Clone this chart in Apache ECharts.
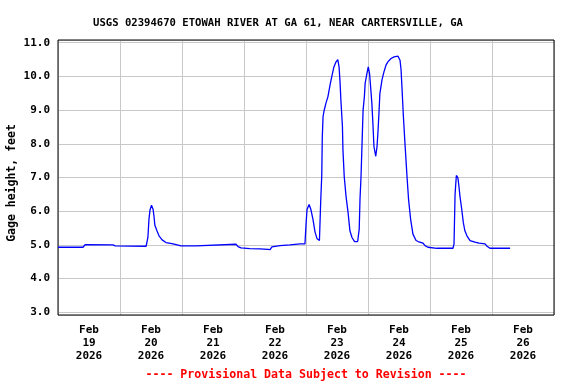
<!DOCTYPE html>
<html>
<head>
<meta charset="utf-8">
<script src="https://cdn.jsdelivr.net/npm/echarts@6/dist/echarts.min.js"></script>
<style>html,body{margin:0;padding:0;background:#fff}#c{width:576px;height:384px}</style>
</head>
<body>
<div id="c"></div>
<script>
// hours since 2026-02-19 00:00
const hours = [0,9.7,10.5,21.3,22.1,34.1,34.5,34.8,35.2,35.6,36.2,36.8,37.2,37.5,38.3,39.1,40.3,41.8,44.1,46.1,47.6,53.4,53.8,68.9,69.7,70.8,74.3,78.2,81.3,82.1,82.8,85.9,89.8,93.7,95.6,96.0,96.4,97.2,97.9,98.7,99.5,100.3,101.2,101.7,102.1,102.3,102.6,103.0,103.7,104.5,105.3,106.1,106.8,107.6,108.3,108.8,109.2,109.5,110.1,110.3,110.8,111.5,112.3,113.0,113.8,114.8,116.0,116.6,116.9,117.3,117.7,118.1,118.6,118.9,119.6,120.1,120.6,121.0,121.5,121.9,122.3,123.0,123.5,123.9,124.3,124.6,125.4,126.2,127.0,127.7,128.9,130.1,131.6,132.4,132.8,133.2,133.7,134.3,135.1,135.7,136.5,137.4,138.6,139.4,141.3,142.1,143.2,146.7,152.9,153.3,153.7,154.2,154.8,155.2,155.6,156.3,156.9,157.5,158.3,159.5,161.4,163.0,165.3,166.1,167.2,175.0];
const gage = [4.93,4.93,5.01,5.00,4.97,4.96,4.98,5.22,5.75,6.03,6.18,6.06,5.82,5.58,5.42,5.27,5.15,5.07,5.04,5.00,4.97,4.97,5.02,5.02,4.95,4.91,4.89,4.88,4.87,4.86,4.94,4.98,5.00,5.03,5.03,5.6,6.05,6.2,6.05,5.76,5.38,5.18,5.13,6.31,7.06,8.18,8.81,8.98,9.2,9.4,9.74,10.04,10.28,10.43,10.5,10.28,9.8,9.3,8.52,7.82,7.03,6.44,5.95,5.42,5.22,5.1,5.1,5.47,6.35,7.03,8.02,9.0,9.4,9.8,10.09,10.28,10.09,9.7,9.2,8.6,7.92,7.63,7.92,8.41,9.0,9.49,9.89,10.14,10.34,10.43,10.53,10.58,10.6,10.48,10.19,9.6,8.81,8.02,7.03,6.35,5.76,5.32,5.13,5.1,5.05,4.98,4.93,4.9,4.9,5.03,6.5,7.06,6.99,6.74,6.44,6.05,5.66,5.42,5.27,5.13,5.08,5.05,5.03,4.96,4.9,4.9];
const dayLabels = ['Feb\n19\n2026','Feb\n20\n2026','Feb\n21\n2026','Feb\n22\n2026','Feb\n23\n2026','Feb\n24\n2026','Feb\n25\n2026','Feb\n26\n2026'];
const titleText = 'USGS 02394670 ETOWAH RIVER AT GA 61, NEAR CARTERSVILLE, GA';
const yName = 'Gage height, feet';
const footer = '---- Provisional Data Subject to Revision ----';

const FONT = '"DejaVu Sans Mono", monospace';
const chart = echarts.init(document.getElementById('c'), null, {renderer:'canvas'});
chart.setOption({
  animation: false,
  backgroundColor: '#fff',
  grid: {left: 58, right: 22, top: 40, bottom: 69, show: true, borderColor: '#000', borderWidth: 1, backgroundColor: 'transparent', z: 3},
  title: {text: titleText, left: 88, top: 13, textStyle: {fontFamily: FONT, fontSize: 10.6, fontWeight: 'bold', color: '#000'}},
  xAxis: [
    {type: 'value', min: 0, max: 192, interval: 24, position: 'bottom',
     axisLine: {show: false}, axisTick: {show: false}, axisLabel: {show: false},
     splitLine: {show: true, lineStyle: {color: '#c8c8c8', width: 1}}},
    {type: 'value', min: 0, max: 192, interval: 12, position: 'bottom',
     axisLine: {show: false}, axisTick: {show: false}, splitLine: {show: false},
     axisLabel: {show: true, margin: 9, fontFamily: FONT, fontSize: 11, fontWeight: 'bold', color: '#000', lineHeight: 13,
       formatter: function (v) { if (v % 24 === 12) { return dayLabels[(v - 12) / 24] || ''; } return ''; }}}
  ],
  yAxis: {type: 'value', min: 2.92, max: 11.08, splitNumber: 8, minInterval: 1, maxInterval: 1,
    axisLine: {show: false}, axisTick: {show: false},
    axisLabel: {margin: 8, fontFamily: FONT, fontSize: 11, fontWeight: 'bold', color: '#000',
      formatter: function (v) { return Math.abs(v - Math.round(v)) < 1e-6 ? v.toFixed(1) : ''; }},
    splitLine: {show: true, lineStyle: {color: '#c8c8c8', width: 1}}},
  series: [{
    type: 'line', xAxisIndex: 0, data: hours.map((h, i) => [h, gage[i]]),
    showSymbol: false, symbol: 'none', lineStyle: {color: '#0000ff', width: 1.3}, z: 4
  }],
  graphic: [
    {type: 'text', x: 12, y: 183, rotation: Math.PI / 2,
     style: {text: yName, fontFamily: FONT, fontSize: 11.5, fontWeight: 'bold', fill: '#000', align: 'center', verticalAlign: 'middle'}},
    {type: 'text', x: 306, y: 375,
     style: {text: footer, fontFamily: FONT, fontSize: 11.6, fontWeight: 'bold', fill: '#ff0000', align: 'center', verticalAlign: 'middle'}}
  ]
});
</script>
</body>
</html>
